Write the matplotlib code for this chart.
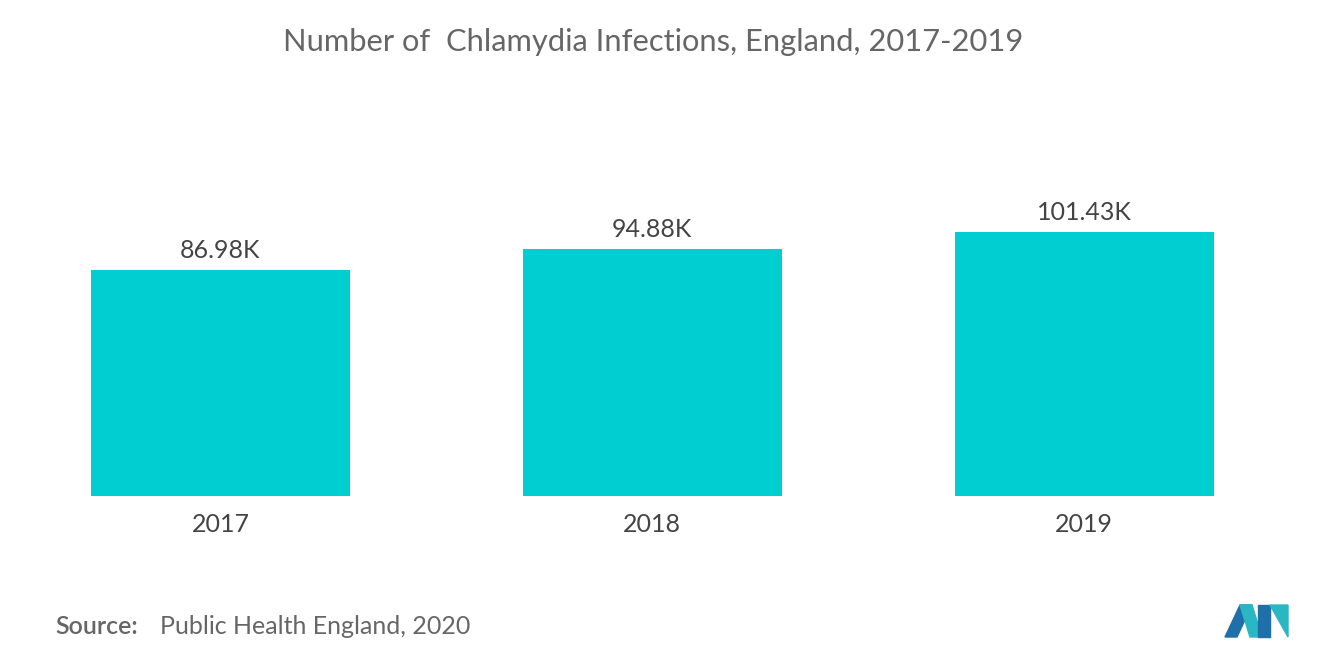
import matplotlib
matplotlib.use("Agg")
import matplotlib.pyplot as plt
from matplotlib.patches import Polygon

years = ["2017", "2018", "2019"]
values = [86.98, 94.88, 101.43]
labels = ["86.98K", "94.88K", "101.43K"]

plt.rcParams["font.family"] = "Lato"
fig = plt.figure(figsize=(13.2, 6.65), dpi=100)
ax = fig.add_axes([60/1320, (665-496)/665, 1200/1320, (496-150)/665])
x = list(range(len(years)))
bars = ax.bar(x, values, width=0.6, color="#00CED1")
for xi, v, l in zip(x, values, labels):
    ax.text(xi, v + 3, l, ha="center", va="bottom", fontsize=18, color="#444444")
ax.set_xlim(-0.3715, 2.407)
ax.set_ylim(0, 132.9)
ax.set_xticks(x)
ax.set_xticklabels(years, fontsize=18, color="#444444")
ax.tick_params(axis="x", length=0, pad=12)
ax.set_yticks([])
for s in ax.spines.values():
    s.set_visible(False)

fig.text(0.495, 1-42/665, "Number of  Chlamydia Infections, England, 2017-2019",
         ha="center", va="center", fontsize=22.2, color="#666666")
fig.text(55/1320, 1-627/665, "Source:", ha="left", va="center", fontsize=18,
         color="#666666", fontweight="semibold")
fig.text(160/1320, 1-627/665, "Public Health England, 2020", ha="left", va="center",
         fontsize=18, color="#666666")

def P(pts, c):
    fig.patches.append(Polygon([(px/1320, 1-py/665) for px, py in pts],
                               closed=True, transform=fig.transFigure, color=c))
P([(1225, 637), (1240, 605), (1252, 605), (1237, 637)], "#1F6FA8")
P([(1240, 605), (1252, 605), (1262, 637), (1250, 637)], "#2BB6C4")
P([(1258, 605), (1270, 605), (1270, 637), (1258, 637)], "#1F6FA8")
P([(1270, 605), (1288, 637), (1288, 605)], "#2BB6C4")
fig.savefig("out.png", dpi=100, facecolor="white")
